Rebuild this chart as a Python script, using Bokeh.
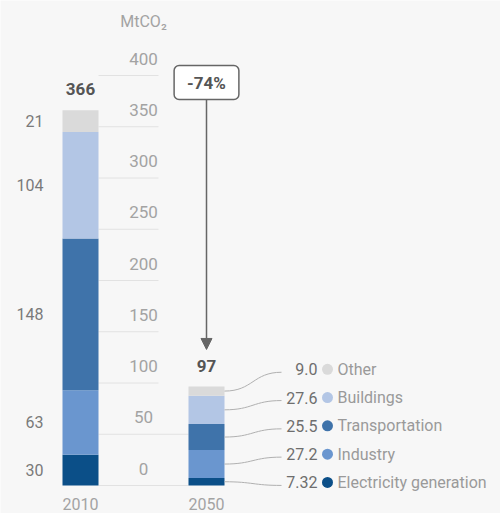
from bokeh.plotting import figure
from bokeh.models import Range1d, ColumnDataSource, Label, Arrow, NormalHead
from bokeh.core.properties import value
from bokeh.embed import file_html
from bokeh.resources import INLINE

# ---------------- data ----------------
years = ["2010", "2050"]
sectors = ["Electricity generation", "Industry", "Transportation", "Buildings", "Other"]
values_2010 = [30, 63, 148, 104, 21]
values_2050 = [7.32, 27.2, 25.5, 27.6, 9.0]
labels_2010 = ["30", "63", "148", "104", "21"]
labels_2050 = ["7.32", "27.2", "25.5", "27.6", "9.0"]
colors = ["#0b4f88", "#6a96cf", "#3f73aa", "#b3c6e5", "#dadada"]
ticks = [0, 50, 100, 150, 200, 250, 300, 350, 400]
tick_labels = ["0", "50", "100", "150", "200", "250", "300", "350", "400"]
change_label = "-74%"
unit_label = "MtCO₂"

# ---------------- layout ----------------
W, H = 500, 513
K = 410 / 400.0          # px per data unit (y)
ZERO_PX = 485            # canvas px from top where y = 0
UX = 126.0               # px per category step (x)
X0_PX = 80               # canvas px of the first category centre
BW = 36 / UX             # bar width in category units

def py(px):              # px -> y data units
    return px / K

def px_x(px):            # px -> x data units
    return px / UX

FONT = "Roboto"

p = figure(width=W, height=H,
           x_range=Range1d(-X0_PX / UX, (W - X0_PX) / UX),
           y_range=Range1d(-(H - ZERO_PX) / K, ZERO_PX / K),
           output_backend="svg", toolbar_location=None, min_border=0,
           x_axis_location=None, y_axis_location=None,
           background_fill_color="#f7f7f7", border_fill_color="#f7f7f7",
           outline_line_color=None)
p.grid.visible = False

# ---------------- gridlines + tick labels ----------------
total_2010 = sum(values_2010)
total_2050 = sum(values_2050)
g_x0, g_x1, g_y = [], [], []
for t in ticks:
    g_x0.append(0 + BW / 2)
    g_x1.append(1 - BW / 2 if t < total_2050 else 0 + px_x(78))
    g_y.append(t)
p.segment(x0=g_x0, y0=g_y, x1=g_x1, y1=g_y, line_color="#e2e2e2", line_width=1)

p.text(x=[0.5] * len(ticks), y=[t + py(17) for t in ticks], text=tick_labels,
       text_align="center", text_baseline="middle", text_color="#a3a3a3",
       text_font=value(FONT), text_font_size="17px")
p.text(x=[0.5], y=[400 + py(54)], text=[unit_label], text_align="center",
       text_baseline="middle", text_color="#a3a3a3",
       text_font=value(FONT), text_font_size="16px")

# ---------------- stacked bars ----------------
bx, bb, bt, bc = [], [], [], []
mids = {0: [], 1: []}
for i, vals in enumerate([values_2010, values_2050]):
    cum = 0
    for j, v in enumerate(vals):
        bx.append(i); bb.append(cum); bt.append(cum + v); bc.append(colors[j])
        mids[i].append(cum + v / 2)
        cum += v
src = ColumnDataSource(dict(x=bx, bottom=bb, top=bt, color=bc))
p.vbar(x="x", bottom="bottom", top="top", width=BW, fill_color="color",
       line_color=None, source=src)

# totals above bars
p.text(x=[0, 1], y=[total_2010 + py(21), total_2050 + py(20)],
       text=[str(round(total_2010)), str(round(total_2050))],
       text_align="center", text_baseline="middle", text_color="#555555",
       text_font=value(FONT), text_font_size="17px", text_font_style="bold")

# 2010 segment labels
p.text(x=[0 - px_x(37)] * 5, y=mids[0], text=labels_2010,
       text_align="right", text_baseline="middle", text_color="#7a7a7a",
       text_font=value(FONT), text_font_size="16px")

# year labels
p.text(x=[0, 1], y=[-py(18)] * 2, text=years, text_align="center",
       text_baseline="middle", text_color="#a3a3a3",
       text_font=value(FONT), text_font_size="16px")

# ---------------- 2050 legend with connectors ----------------
row_y = [3 + i * 27.6 for i in range(5)]
cx_start = 1 + BW / 2
cx_end = 1 + px_x(75)
cmid = (cx_start + cx_end) / 2
line_y = [r - py(3) for r in row_y]
p.bezier(x0=[cx_start] * 5, y0=mids[1], x1=[cx_end] * 5, y1=line_y,
         cx0=[cmid] * 5, cy0=mids[1], cx1=[cmid] * 5, cy1=line_y,
         line_color="#b0b0b0", line_width=1)
p.text(x=[1 + px_x(111)] * 5, y=row_y, text=labels_2050, text_align="right",
       text_baseline="middle", text_color="#6e6e6e",
       text_font=value(FONT), text_font_size="16px")
p.scatter(x=[1 + px_x(121)] * 5, y=row_y, size=11, fill_color=colors,
          line_color=None)
p.text(x=[1 + px_x(131)] * 5, y=row_y, text=sectors, text_align="left",
       text_baseline="middle", text_color="#9a9a9a",
       text_font=value(FONT), text_font_size="16px")

# ---------------- change arrow + box ----------------
box_y = 400 - py(7)
p.add_layout(Arrow(end=NormalHead(size=11, fill_color="#666666", line_color="#666666"),
                   x_start=1, y_start=box_y - py(17), x_end=1, y_end=total_2050 + py(37),
                   line_color="#666666", line_width=1.5))
p.add_layout(Label(x=1, y=box_y, text=change_label, text_align="center",
                   text_baseline="middle", text_color="#555555",
                   text_font=FONT, text_font_size="17px", text_font_style="bold",
                   background_fill_color="white", border_line_color="#666666",
                   border_line_width=1.5, border_radius=5,
                   padding=dict(left=13, right=13, top=7, bottom=7)))

open("out.html", "w").write(file_html(p, INLINE))
